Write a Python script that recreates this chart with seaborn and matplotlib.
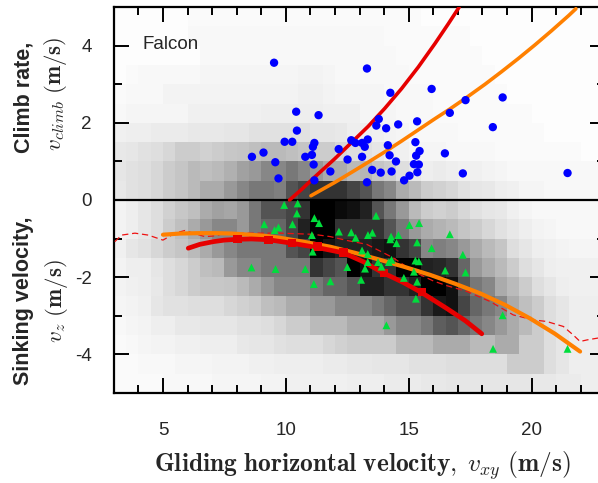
import numpy as np
import pandas as pd
import matplotlib
matplotlib.use("Agg")
import matplotlib.pyplot as plt
import seaborn as sns
from matplotlib.colors import LinearSegmentedColormap
from matplotlib.ticker import MultipleLocator

sns.set_style("ticks")
plt.rcParams['font.family'] = ['Liberation Sans', 'DejaVu Sans']
plt.rcParams['mathtext.fontset'] = 'cm'
plt.rcParams['axes.unicode_minus'] = False

# ---------------- data ----------------
# background density (darkness 0-100), 0.5 x 0.5 bins, rows from top (y 4.5..5) to bottom (y -5..-4.5)
heat_x = np.arange(3.25, 23.0, 0.5)
heat_y = np.arange(4.75, -5.0, -0.5)
heat_rows = [
    [1,1,1,1,1,1,2,2,2,2,2,2,2,2, 2,2,2,2,2,2,2,2,2,2,2,1,1, 1,1,1,1,1,1,1,1,1,1,1,1,1],
    [1,1,1,1,1,1,3,3,3,3,3,3,3,3, 3,3,3,3,3,3,3,3,2,2,2,2,2, 2,2,1,1,1,1,1,1,1,1,1,1,1],
    [1,1,1,1,1,1,1,3,3,3,3,3,3,3, 3,3,3,3,3,3,3,3,3,2,2,2,2, 2,2,2,1,1,1,1,1,1,1,1,1,1],
    [1,2,3,3,3,3,3,4,4,4,4,4,4,4, 4,5,5,4,3,3,3,3,3,3,2,2,2, 2,2,2,2,1,1,1,1,1,1,1,1,1],
    [2,3,3,3,5,5,5,5,5,5,5,5,5,5, 5,6,6,5,4,4,4,4,3,3,3,3,2, 2,2,2,2,2,1,1,1,1,1,1,1,1],
    [3,4,4,4,4,4,6,6,6,6,6,6,7,7, 7,7,7,6,6,6,4,4,4,3,3,3,2, 2,2,2,2,2,2,2,1,1,1,1,1,1],
    [6,7,7,8,8,8,9,9,9,10,10,12,12,12, 12,12,10,10,9,7,7,6,5,4,3,3,3, 3,2,2,2,2,2,2,2,1,1,1,1,1],
    [9,10,12,13,16,20,20,18,20,22,23,25,27,27, 25,23,20,20,16,13,12,10,7,6,4,4,4, 3,3,3,3,2,2,2,2,2,2,2,1,1],
    [10,12,13,16,20,23,27,25,27,31,37,40,47,47, 53,47,40,33,33,27,29,23,20,13,10,7,8, 7,6,6,5,4,3,3,3,3,3,3,3,3],
    [9,12,13,16,20,23,27,33,33,40,47,53,53,50, 67,73,80,80,80,73,67,53,47,33,27,20,18, 16,12,10,9,7,6,4,4,3,3,3,3,3],
    [5,7,10,13,18,22,25,33,37,35,40,53,67,67, 73,80,100,100,96,93,87,67,53,40,27,20,18, 20,16,12,10,9,6,4,3,3,3,3,3,3],
    [5,7,10,13,20,25,33,40,47,47,40,53,60,60, 73,87,100,100,80,80,80,80,67,53,40,33,30, 27,23,20,16,12,9,7,5,4,3,3,3,3],
    [6,10,12,16,20,23,27,33,40,47,53,53,53,53, 67,73,100,93,87,87,87,90,93,80,73,47,50, 47,40,33,27,23,13,10,7,6,5,4,4,4],
    [5,7,7,10,13,16,20,25,27,40,47,47,53,53, 53,53,80,73,67,100,93,80,80,100,100,87,85, 80,60,40,33,27,20,13,10,7,6,6,6,6],
    [5,6,7,9,13,16,20,22,22,23,27,33,40,47, 47,47,53,60,60,67,87,87,80,80,87,100,100, 93,67,53,47,33,27,20,13,10,7,6,6,6],
    [4,5,6,10,12,12,13,13,13,16,18,20,25,27, 33,33,40,40,47,47,47,53,60,67,67,80,90, 93,73,60,53,47,33,25,20,13,10,7,7,7],
    [3,4,5,7,7,9,9,10,10,10,12,12,13,16, 20,20,27,27,27,33,33,33,40,47,47,53,63, 67,60,53,47,40,33,27,20,13,10,7,7,7],
    [2,3,4,5,5,6,6,7,7,7,9,10,10,12, 13,13,13,16,18,20,20,20,20,27,27,27,33, 33,33,27,27,33,33,20,20,13,10,7,7,7],
    [2,2,3,3,3,4,4,4,5,5,5,6,6,7, 7,7,7,8,8,9,9,10,10,10,12,12,12, 13,13,13,13,13,20,20,20,13,10,7,7,7],
    [2,2,2,2,3,3,3,3,4,4,4,4,5,5, 6,6,6,6,6,7,7,7,8,8,8,9,9, 10,10,10,10,10,10,10,9,9,8,8,7,7],
]

# climb points (blue)
climb_x = [9.52,10.42,10.45,9.95,10.26,8.62,9.09,9.57,9.70,11.33,13.30,14.25,15.93,17.31,18.82,18.42,
           16.67,15.34,14.57,13.78,13.68,14.08,13.33,12.66,12.83,13.10,13.21,11.16,11.10,12.15,14.15,15.27,
           15.44,15.30,14.22,13.10,12.51,10.79,11.06,11.13,14.48,15.21,15.41,16.47,11.81,13.51,13.86,14.30,
           15.35,15.03,14.81,13.30,17.20,21.46,11.16]
climb_y = [3.56,2.29,1.80,1.51,1.51,1.12,1.23,0.98,0.56,2.20,3.41,2.78,2.88,2.59,2.66,1.89,
           2.26,2.04,1.96,2.10,1.93,1.86,1.57,1.55,1.48,1.48,1.38,1.48,1.38,1.32,1.42,1.50,
           1.27,1.15,1.16,1.12,1.05,1.12,1.17,0.92,1.00,0.93,0.92,1.21,0.74,0.78,0.71,0.74,
           0.72,0.63,0.51,0.46,0.69,0.70,0.51]

# sink points (green)
sink_x = [9.93,10.48,10.45,10.27,9.12,9.54,9.70,8.60,9.58,11.16,11.35,11.06,11.09,12.16,12.66,12.84,
          13.34,13.52,13.67,14.28,14.25,14.58,14.50,15.03,15.42,15.34,15.93,13.10,13.33,13.33,13.75,13.89,
          14.19,14.30,13.22,12.50,10.79,13.06,11.81,11.14,14.80,15.34,15.27,15.41,15.21,15.29,14.09,
          16.67,17.20,16.48,17.31,18.82,18.43,21.46]
sink_y = [-0.13,-0.09,-0.35,-0.63,-0.63,-0.78,-0.71,-1.75,-1.79,-0.47,-0.60,-0.91,-1.34,-0.82,-0.84,-0.98,
          -0.91,-0.85,-0.41,-0.95,-1.02,-0.91,-1.12,-0.65,-0.60,-1.10,-1.25,-1.31,-1.40,-1.61,-1.61,-1.73,
          -1.61,-1.55,-1.78,-1.74,-1.79,-2.07,-2.11,-2.18,-2.02,-2.12,-1.57,-1.59,-1.86,-2.56,-3.25,
          -0.89,-1.42,-1.83,-1.88,-2.99,-3.86,-3.86]

# binned means (red squares)
bin_x = [8.03, 9.30, 10.25, 11.29, 12.35, 13.98, 15.53]
bin_y = [-1.02, -1.04, -1.12, -1.21, -1.36, -1.90, -2.39]

# model curves
red_climb_x = [10.15, 10.65, 11.18, 11.99, 12.67, 13.35, 14.03, 14.71, 15.39, 16.07, 16.61, 17.05]
red_climb_y = [0.00, 0.28, 0.60, 1.07, 1.49, 1.91, 2.38, 2.89, 3.45, 4.06, 4.57, 5.00]
orange_climb_x = [11.02, 12.00, 12.68, 13.35, 14.03, 14.71, 15.39, 16.07, 16.65, 17.29, 18.10, 18.78,
                  19.46, 20.13, 20.81, 21.50, 21.80]
orange_climb_y = [0.11, 0.46, 0.72, 0.98, 1.25, 1.53, 1.82, 2.11, 2.35, 2.63, 3.00, 3.33,
                  3.67, 4.02, 4.39, 4.78, 4.96]
red_sink_x = [6.03, 6.50, 7.05, 7.50, 8.00, 8.60, 9.28, 10.24, 11.25, 12.34, 13.15, 13.96, 14.78,
              15.52, 16.54, 17.30, 17.97]
red_sink_y = [-1.25, -1.15, -1.08, -1.04, -1.02, -1.01, -1.03, -1.12, -1.23, -1.37, -1.60, -1.89, -2.14,
              -2.40, -2.81, -3.13, -3.47]
orange_sink_x = [5.00, 5.70, 6.44, 7.20, 7.80, 8.50, 9.16, 9.76, 10.78, 11.79, 12.81, 13.83, 14.85,
                 15.86, 16.88, 17.90, 18.92, 19.93, 20.95, 21.97]
orange_sink_y = [-0.90, -0.87, -0.86, -0.86, -0.87, -0.90, -0.93, -0.98, -1.09, -1.21, -1.37, -1.55, -1.74,
                 -1.94, -2.17, -2.42, -2.72, -3.07, -3.47, -3.93]
dash_x = [3.04, 3.32, 3.86, 4.40, 5.00, 5.49, 5.90, 6.23, 6.71, 7.12, 7.53, 8.21, 9.16, 9.77, 11.12,
          11.81, 12.49, 13.29, 13.85, 14.37, 15.18, 16.00, 16.54, 17.36, 18.30, 19.25, 20.07, 20.61,
          21.29, 21.69, 21.97, 22.24, 22.70]
dash_y = [-1.08, -0.91, -0.86, -0.91, -1.04, -0.86, -0.79, -0.86, -0.95, -0.93, -0.86, -0.86, -0.86,
          -0.86, -0.89, -0.95, -1.05, -1.15, -1.33, -1.50, -1.85, -2.10, -2.22, -2.37, -2.63, -2.98,
          -3.11, -3.15, -3.28, -3.50, -3.67, -3.63, -3.58]

x_ticks = [5, 10, 15, 20]
y_ticks = [-4, -2, 0, 2, 4]

# ---------------- figure ----------------
W, H = 598, 483
fig = plt.figure(figsize=(W / 100, H / 100), dpi=100)
ax = fig.add_axes([113.8 / W, (H - 392.8) / H, 491.6 / W, 385.6 / H])

assert all(len(r) == len(heat_x) for r in heat_rows) and len(heat_rows) == len(heat_y)
gx, gy = np.meshgrid(heat_x, heat_y)
heat_df = pd.DataFrame({"x": gx.ravel(), "y": gy.ravel(), "d": np.array(heat_rows, float).ravel()})
gray = LinearSegmentedColormap.from_list("wb", ["#ffffff", "#000000"])
sns.histplot(data=heat_df, x="x", y="y", weights="d", binwidth=0.5,
             binrange=((3, 23), (-5, 5)), cmap=gray, thresh=None, cbar=False,
             vmin=0, vmax=100, ax=ax, zorder=0)

ax.axhline(0, color="black", lw=1.6, zorder=2)

sns.lineplot(x=dash_x, y=dash_y, color="#ee1111", lw=0.9, linestyle=(0, (5, 3)),
             estimator=None, sort=False, ax=ax, zorder=3)
sns.lineplot(x=orange_sink_x, y=orange_sink_y, color="#ff8000", lw=3.0,
             estimator=None, sort=False, ax=ax, zorder=4)
sns.lineplot(x=red_sink_x, y=red_sink_y, color="#e60000", lw=3.4,
             estimator=None, sort=False, ax=ax, zorder=5)
sns.lineplot(x=orange_climb_x, y=orange_climb_y, color="#ff8000", lw=2.6,
             estimator=None, sort=False, ax=ax, zorder=4)
sns.lineplot(x=red_climb_x, y=red_climb_y, color="#e60000", lw=2.6,
             estimator=None, sort=False, ax=ax, zorder=5)

sns.scatterplot(x=bin_x, y=bin_y, marker="s", s=36, color="#e60000", edgecolor="none",
                ax=ax, zorder=6)
sns.scatterplot(x=sink_x, y=sink_y, marker="^", s=32, color="#00dd3c", edgecolor="none",
                ax=ax, zorder=7)
sns.scatterplot(x=climb_x, y=climb_y, marker="o", s=36, color="#0000ff", edgecolor="none",
                ax=ax, zorder=7)

ax.set_xlim(3, 23)
ax.set_ylim(-5, 5)
ax.set_xticks(x_ticks)
ax.set_yticks(y_ticks)
ax.set_xticklabels([str(t) for t in x_ticks])
ax.set_yticklabels([str(t) for t in y_ticks])
ax.xaxis.set_minor_locator(MultipleLocator(1))
ax.yaxis.set_minor_locator(MultipleLocator(1))
ax.tick_params(which="both", direction="in", top=True, right=True, width=1.4, color="black")
ax.tick_params(which="major", length=11)
ax.tick_params(which="minor", length=5.5)
ax.tick_params(axis="x", pad=21, labelsize=13.5)
ax.tick_params(axis="y", pad=16, labelsize=13.5)
for sp in ax.spines.values():
    sp.set_linewidth(1.6)
    sp.set_color("black")
ax.set_xlabel("")
ax.set_ylabel("")
ax.grid(False)

ax.text(4.15, 4.04, "Falcon", ha="left", va="center", fontsize=13.5)

fig.text(362 / W, 1 - 466 / H,
         r"$\mathbf{Gliding\ horizontal\ velocity,}\;v_{xy}\ \mathbf{(m/s)}$",
         ha="center", va="center", fontsize=18.3)
fig.text(24 / W, 1 - 97 / H, "Climb rate,", rotation=90, ha="center", va="center",
         fontsize=15.5, fontweight="bold")
fig.text(56 / W, 1 - 94 / H, r"$v_{climb}\ \mathbf{(m/s)}$", rotation=90,
         ha="center", va="center", fontsize=16.5)
fig.text(24 / W, 1 - 301 / H, "Sinking velocity,", rotation=90, ha="center", va="center",
         fontsize=15.5, fontweight="bold")
fig.text(56 / W, 1 - 301 / H, r"$v_z\ \mathbf{(m/s)}$", rotation=90,
         ha="center", va="center", fontsize=16.5)

fig.savefig("out.png", dpi=100)
